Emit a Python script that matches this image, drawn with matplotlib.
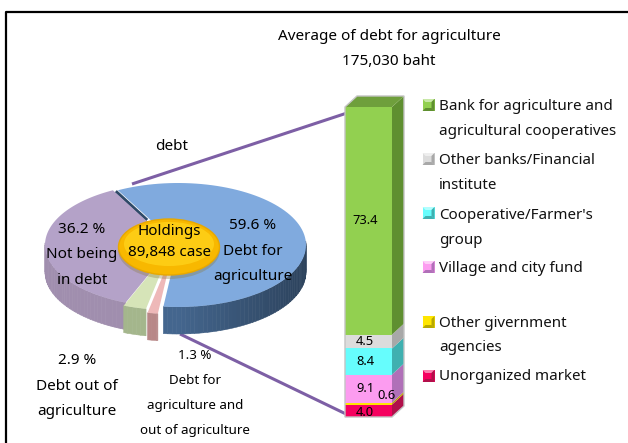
import numpy as np
import matplotlib

matplotlib.use("Agg")
import matplotlib.pyplot as plt
from matplotlib.patches import Ellipse, Polygon, Rectangle

plt.rcParams["font.family"] = ["Noto Sans", "DejaVu Sans"]

W, H = 628, 443

# pie shares, going round from the blue slice
pie_names = ["agri", "both", "out", "none"]
pie_values = [59.6, 1.3, 2.9, 36.2]

# stacked column, bottom to top
bar_names = [
    "Unorganized market",
    "Other givernment\nagencies",
    "Village and city fund",
    "Cooperative/Farmer's\ngroup",
    "Other banks/Financial\ninstitute",
    "Bank for agriculture and\nagricultural cooperatives",
]
bar_values = [4.0, 0.6, 9.1, 8.4, 4.5, 73.4]
bar_colors = ["#f5005f", "#ffe600", "#fc9cf0", "#66fdfd", "#dcdcdc", "#92d050"]
side_colors = ["#b0104a", "#b8a800", "#b070b8", "#3fb0b0", "#a8a8a8", "#5f8f30"]

top_color = {"agri": "#80aade", "both": "#eeb8b8", "out": "#d6e4b8", "none": "#b4a2c8"}
wall_color = {"agri": "#44668e", "both": "#b88888", "out": "#a4b68c", "none": "#a08eae"}
shift = {"agri": (4, 0), "both": (-1.5, 7), "out": (-3, 3), "none": (-1, 0)}


def shade(color, k):
    rgb = np.array(matplotlib.colors.to_rgb(color))
    return tuple(np.clip(rgb * k, 0, 1))


def arc(cx, cy, t0, t1):
    t = np.radians(np.linspace(t0, t1, 90))
    return np.column_stack([cx + 128 * np.cos(t), cy - 62 * np.sin(t)])


def draw_slice(ax, name, t0, t1):
    dx, dy = shift[name]
    cx, cy = 174 + dx, 245 + dy
    depth = 27
    # wall under the rim, only the part facing the viewer
    steps = np.arange(t0, t1, 2.0)
    for a in steps:
        b = min(a + 2.0, t1)
        mid = np.radians((a + b) / 2)
        if np.sin(mid) > 0.05:
            continue
        k = 1.0 - 0.35 * max(0.0, np.cos(mid)) if name == "agri" else 1.0
        rim = arc(cx, cy, a, b)
        low = rim[::-1] + [0, depth]
        ax.add_patch(Polygon(np.vstack([rim, low]), fc=shade(wall_color[name], k),
                             ec=shade(wall_color[name], k), lw=0.4, zorder=3))
    ax.add_patch(Polygon(np.vstack([[cx, cy], arc(cx, cy, t0, t1)]), fc=top_color[name],
                         ec="none", zorder=4))


fig = plt.figure(figsize=(W / 100, H / 100), dpi=100)
ax = fig.add_axes([0, 0, 1, 1])
ax.set_xlim(0, W)
ax.set_ylim(H, 0)
ax.axis("off")

# frame
ax.plot([5.5, 5.5, 628], [H, 12, 12], color="black", lw=1.6, zorder=1)

# pie
start = 118.0
angles = {}
t = start
for name, v in zip(pie_names, pie_values):
    angles[name] = (t - v * 3.6, t)
    t -= v * 3.6
for name in ["none", "agri", "out", "both"]:
    draw_slice(ax, name, *angles[name])

# dark cut edge of blue slice seen behind the purple one
p = arc(178, 245, start, start)[0]
ax.plot([p[0] - 1, 146], [p[1] + 2, 219], color="#2f4a68", lw=2.2, zorder=3.5)

ax.add_patch(Ellipse((169, 250), 102, 58, fc="#8a7a40", ec="none", alpha=0.35, zorder=6))
ax.add_patch(Ellipse((169, 247), 101, 56, fc="#f8b800", ec="#e8a800", lw=1, zorder=7))
ax.add_patch(Ellipse((169, 244), 90, 44, fc="#ffd21a", ec="none", alpha=0.8, zorder=7))

# connector lines
ax.plot([132, 347], [184, 113], color="#7d5fa5", lw=2.2, zorder=2, solid_capstyle="butt")
ax.plot([180, 346], [334, 414], color="#7d5fa5", lw=2.2, zorder=2, solid_capstyle="butt")

# stacked column, in its own axes with a % scale
bar_ax = fig.add_axes([345 / W, 1 - 417 / H, 59 / W, 321 / H])
dx, dy = 12 / 47, 11 / 310 * 100
bar_ax.set_xlim(0, 1 + dx)
bar_ax.set_ylim(0, 100 + dy)
bar_ax.axis("off")
bottom = 0
for v, c, s in zip(bar_values, bar_colors, side_colors):
    bar_ax.bar(0.5, v, width=1, bottom=bottom, color=c, lw=0, zorder=3)
    bar_ax.add_patch(Polygon([(1, bottom), (1 + dx, bottom + dy), (1 + dx, bottom + v + dy),
                              (1, bottom + v)], fc=s, ec="none", zorder=2))
    bottom += v
bar_ax.add_patch(Polygon([(0, 100), (1, 100), (1 + dx, 100 + dy), (dx, 100 + dy)],
                         fc="#6f9f3c", ec="none", zorder=2))
bar_ax.add_patch(Polygon([(0, 0), (1, 0), (1 + dx, dy), (1 + dx, 100 + dy), (dx, 100 + dy), (0, 100)],
                         fc="none", ec="#c4c4c4", lw=1, zorder=4, clip_on=False))
bottom = 0
label_pos = [(0.43, -0.5), (0.89, 2.6), (0.43, 0.0), (0.43, 0.0), (0.43, 0.0), (0.43, 0.0)]
for v, (lx, extra) in zip(bar_values, label_pos):
    bar_ax.text(lx, bottom + v / 2 + extra, f"{v:.1f}", ha="center", va="center",
                fontsize=9.3, color="black", zorder=5)
    bottom += v

# legend, drawn by hand to get the bevelled squares
legend_y = [376, 322, 267, 213, 159, 105]
legend_text_y = [377, 335.5, 269, 228, 173, 119]
for name, c, s, ly, ty in zip(bar_names, bar_colors, side_colors, legend_y, legend_text_y):
    x0, y0 = 422.5, ly - 6
    x1, y1 = x0 + 12, y0 + 12
    ax.add_patch(Rectangle((x0, y0), 12, 12, fc=c, ec="none", zorder=3))
    light = shade(c, 1.0) if c == "#ffe600" else tuple(0.5 * np.array(matplotlib.colors.to_rgb(c)) + 0.5)
    ax.add_patch(Polygon([(x0, y0), (x1, y0), (x1 - 3, y0 + 3), (x0 + 3, y0 + 3)], fc=light, ec="none", zorder=4))
    ax.add_patch(Polygon([(x0, y1), (x1, y1), (x1 - 3, y1 - 3), (x0 + 3, y1 - 3)], fc=s, ec="none", zorder=4))
    ax.add_patch(Polygon([(x1, y0), (x1, y1), (x1 - 3, y1 - 3), (x1 - 3, y0 + 3)], fc=s, ec="none", zorder=4))
    ax.text(439, ty, name, fontsize=10.9, va="center", ha="left", linespacing=1.9, color="#111111")

# titles and pie labels
ax.text(389, 36, "Average of debt for agriculture", fontsize=11, ha="center", va="center")
ax.text(389, 61, "175,030 baht", fontsize=11, ha="center", va="center")
ax.text(172, 146, "debt", fontsize=11, ha="center", va="center")

pie_labels = [
    (82, 255, "36.2 %\nNot being\nin debt"),
    (253, 251, "59.6 %\nDebt for\nagriculture"),
    (77, 386, "2.9 %\nDebt out of\nagriculture"),
]
for x, y, s in pie_labels:
    ax.text(x, y, s, fontsize=11, ha="center", va="center", linespacing=1.95, zorder=9)
ax.text(195, 393, "1.3 %\nDebt for\nagriculture and\nout of agriculture", fontsize=9.6,
        ha="center", va="center", linespacing=2.2, zorder=9)
ax.text(169, 242, "Holdings\n89,848 case", fontsize=10.9, ha="center", va="center",
        linespacing=1.5, zorder=9)

fig.savefig("out.png", dpi=100)
